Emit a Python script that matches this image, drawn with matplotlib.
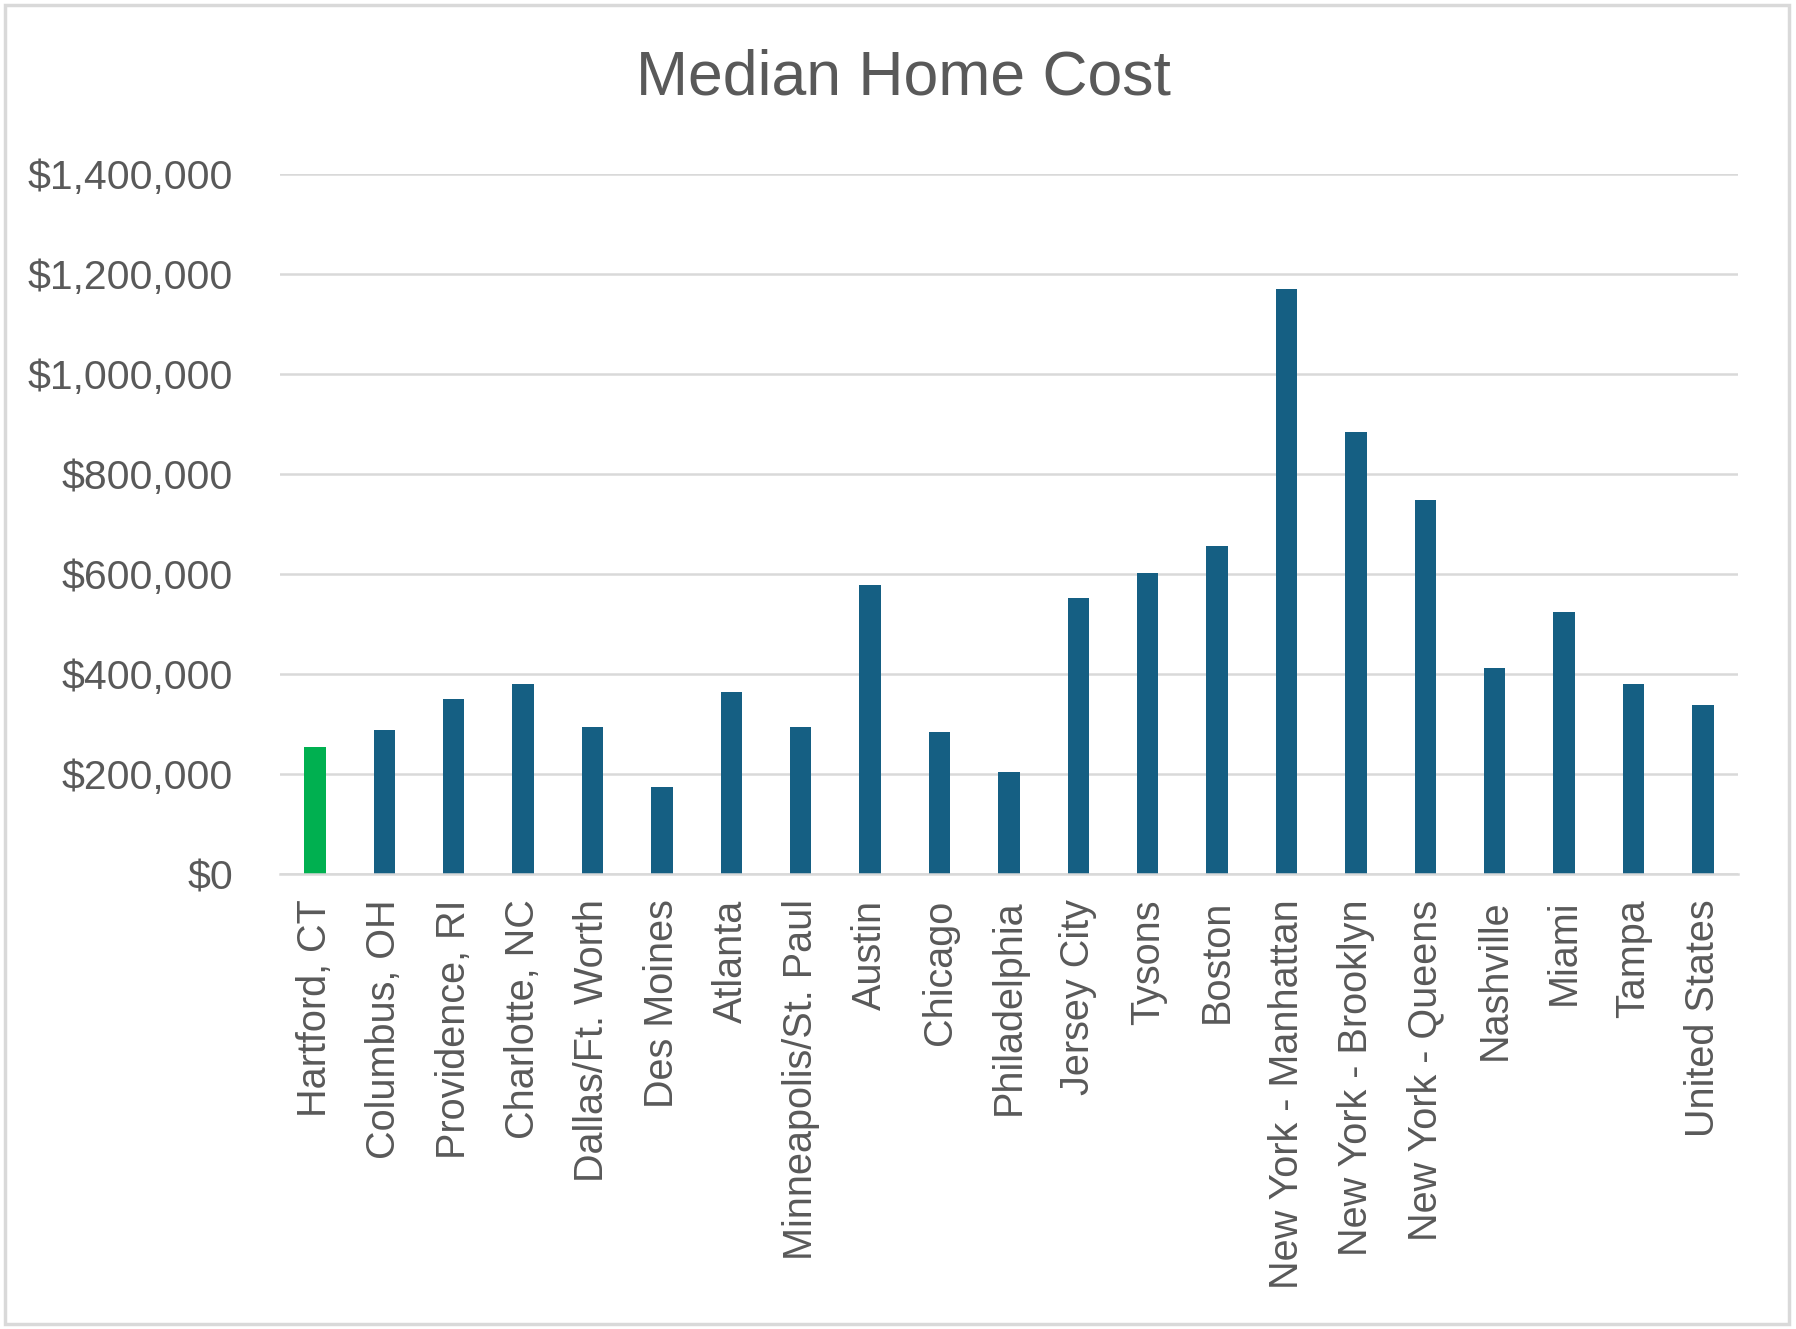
#!/usr/bin/env python
'''
plot.py: Median home cost by metro, Excel-style column chart
'''

import matplotlib
matplotlib.use("Agg")
import matplotlib.pyplot as plt
from matplotlib.ticker import FuncFormatter
from matplotlib.patches import Rectangle

cities = ["Hartford, CT", "Columbus, OH", "Providence, RI", "Charlotte, NC",
          "Dallas/Ft. Worth", "Des Moines", "Atlanta", "Minneapolis/St. Paul",
          "Austin", "Chicago", "Philadelphia", "Jersey City", "Tysons", "Boston",
          "New York - Manhattan", "New York - Brooklyn", "New York - Queens",
          "Nashville", "Miami", "Tampa", "United States"]

median_cost = [255000, 289000, 351000, 381000, 295000, 174000, 365000, 295000,
               578000, 285000, 204000, 552000, 602000, 657000, 1171000, 885000,
               748000, 412000, 525000, 381000, 339000]

yticks = [0, 200000, 400000, 600000, 800000, 1000000, 1200000, 1400000]

highlight = "Hartford, CT"


def main():

    plt.rcParams['font.family'] = ['Liberation Sans', 'DejaVu Sans']
    textcolor = "#595959"
    gridcolor = "#D9D9D9"
    barcolor = "#155F83"
    greencolor = "#00B050"

    fig = plt.figure(figsize=(17.96, 13.29), dpi=100)
    ax = fig.add_axes([0.156, 0.342, 0.8115, 0.527])

    colors = [greencolor if c == highlight else barcolor for c in cities]
    x = list(range(len(cities)))
    ax.bar(x, median_cost, width=0.31, color=colors, zorder=3)

    ax.set_xlim(-0.5, len(cities) - 0.5)
    ax.set_ylim(0, 1400000)
    ax.set_yticks(yticks)
    ax.yaxis.set_major_formatter(FuncFormatter(lambda v, p: "${:,.0f}".format(v)))
    ax.set_xticks(x)
    ax.set_xticklabels(cities, rotation=90, va="top", ha="center")

    ax.grid(axis="y", color=gridcolor, lw=1.8, zorder=0)
    for side in ["top", "right", "left"]:
        ax.spines[side].set_visible(False)
    ax.spines["bottom"].set_color(gridcolor)
    ax.spines["bottom"].set_linewidth(1.8)
    ax.spines["bottom"].set_zorder(4)

    ax.tick_params(axis="y", length=0, pad=34, labelsize=29.5, labelcolor=textcolor)
    ax.tick_params(axis="x", length=0, pad=18, labelsize=28.5, labelcolor=textcolor)

    fig.text(0.503, 0.941, "Median Home Cost", ha="center", va="center",
             fontsize=45, color=textcolor)

    # light outer border like the copied chart area
    fig.patches.append(Rectangle((0.003, 0.004), 0.993, 0.992, transform=fig.transFigure,
                                 fill=False, edgecolor="#D9D9D9", lw=2.5))

    fig.savefig("out.png", dpi=100)
    plt.close()


if __name__ == '__main__':
    main()
